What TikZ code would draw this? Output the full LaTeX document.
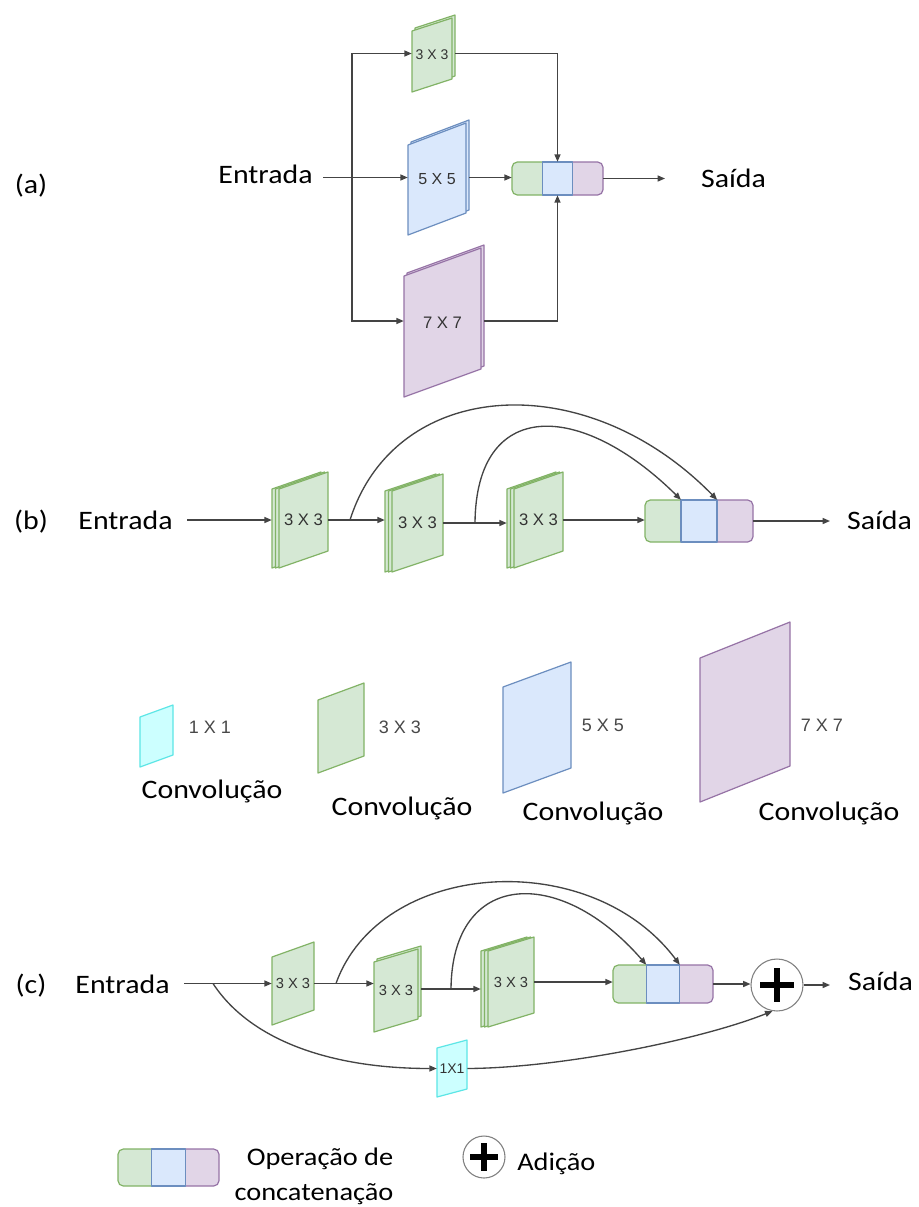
\documentclass[tikz,border=0pt]{standalone}
\usepackage{fontspec}
\setmainfont{Carlito}[FakeStretch=1.12]
\newfontfamily\slabfont{Liberation Sans}
\usetikzlibrary{arrows.meta,calc,fit}

\definecolor{gfill}{HTML}{D5E8D4}\definecolor{gline}{HTML}{82B366}
\definecolor{bfill}{HTML}{DAE8FC}\definecolor{bline}{HTML}{6C8EBF}
\definecolor{pfill}{HTML}{E1D5E7}\definecolor{pline}{HTML}{9673A6}
\definecolor{cfill}{HTML}{CCFFFF}\definecolor{cline}{HTML}{5CE6E6}
\definecolor{linec}{HTML}{444444}
\definecolor{slabtxt}{HTML}{333333}
\definecolor{legtxt}{HTML}{484848}

\tikzset{
  conn/.style={draw=linec, line width=1pt},
  arr/.style={conn, -{Triangle[length=5.5pt,width=4.5pt]}},
  greenc/.style={fill=gfill, draw=gline, line width=0.9pt, line join=round},
  bluec/.style={fill=bfill, draw=bline, line width=0.9pt, line join=round},
  purplec/.style={fill=pfill, draw=pline, line width=0.9pt, line join=round},
  cyanc/.style={fill=cfill, draw=cline, line width=0.9pt, line join=round},
  slablabel/.style={font=\slabfont, text=slabtxt, inner sep=0pt},
  leglabel/.style={font=\slabfont\fontsize{13.5}{15}\selectfont, text=legtxt, inner sep=0pt},
  txt/.style={font=\fontsize{20}{24}\selectfont, inner sep=0pt, anchor=base},
  legtext/.style={font=\fontsize{19}{23}\selectfont, inner sep=0pt, anchor=base},
  addnode/.style={circle, draw=gray, line width=0.8pt, fill=white, inner sep=0pt},
  plusbar/.style={line width=5pt, draw=black},
}

% offset of the stacked back layers
\def\layx{3}\def\layy{-3}

% one slanted convolution face: style, xL, yTop, xR, yBot, rise
\newcommand{\convface}[6]{%
  \filldraw[#1] ({#2},{#3+#6}) -- ({#4},{#3}) -- ({#4},{#5-#6}) -- ({#2},{#5}) -- cycle;}

% convolution block: name, style, xL, yTop, xR, yBot, rise, layers, label
\newcommand{\convslab}[9]{%
  \ifnum#8>2 \convface{#2}{#3+2*\layx}{#4+2*\layy}{#5+2*\layx}{#6+2*\layy}{#7}\fi
  \ifnum#8>1 \convface{#2}{#3+\layx}{#4+\layy}{#5+\layx}{#6+\layy}{#7}\fi
  \convface{#2}{#3}{#4}{#5}{#6}{#7}
  \node[fit={(#3,#4) (#5,#6) ({#3+(#8-1)*\layx},{#4+(#8-1)*\layy}) ({#5+(#8-1)*\layx},{#6+(#8-1)*\layy})}, inner sep=0pt] (#1) {};
  \node[slablabel] (#1-t) at ({(#3+#5)/2},{(#4+#6)/2}) {#9};}

% concatenation block: name, xL, yTop, xR, yBot
\newcommand{\concatbox}[5]{%
  \pgfmathsetmacro\cdivA{#2+(#4-#2)/3}%
  \pgfmathsetmacro\cdivB{#2+2*(#4-#2)/3}%
  \filldraw[greenc, rounded corners=4pt] (#2,#3) rectangle ({\cdivA+8},#5);
  \filldraw[purplec, rounded corners=4pt] ({\cdivB-8},#3) rectangle (#4,#5);
  \filldraw[bluec] (\cdivA,#3) rectangle (\cdivB,#5);
  \node[fit={(#2,#3) (#4,#5)}, inner sep=0pt] (#1) {};}

\begin{document}
\begin{tikzpicture}[x=0.75pt,y=-0.75pt]
\fill[white] (0,0) rectangle (918,1207);
\useasboundingbox (0,0) rectangle (918,1207);

% ---------------- (a) parallel branches ----------------
\node[txt] (la) at (31,193) {(a)};
\node[txt] (ea) at (265.5,183) {Entrada};
\node[txt] (sa) at (733.5,187) {Saída};

\def\layx{3}\def\layy{-3}
\convslab{a3}{greenc}{412}{18}{452}{92}{13}{2}{\fontsize{10.5}{12}\selectfont 3 X 3}
\convslab{a5}{bluec}{408}{123}{466}{235}{22}{2}{\fontsize{12}{14}\selectfont 5 X 5}
\convslab{a7}{purplec}{404}{248}{481}{397}{28}{2}{\fontsize{12.5}{15}\selectfont 7 X 7}
\concatbox{ca}{512}{162}{603}{195}

\coordinate (abr) at (352,177.5);
\coordinate (aout) at (665,178.5);
\draw[arr, shorten <=8pt] (ea.east |- a5.west) -- (a5.west);
\draw[arr] (abr) |- (a3.west);
\draw[arr] (abr) |- (a7.west);
\draw[arr] (a5.east) -- (a5.east -| ca.west);
\draw[arr] (a3.east) -| (ca.north);
\draw[arr] (a7.east) -| (ca.south);
\draw[arr] (ca.east) -- (aout);

% ---------------- (b) dense chain ----------------
\node[txt] (lb) at (31,529) {(b)};
\node[txt] (eb) at (125.5,529) {Entrada};
\node[txt] (sb) at (879.5,529) {Saída};

\def\layx{-3.5}\def\layy{0}
\convslab{b1}{greenc}{279}{472}{328}{568}{17}{3}{\fontsize{12.5}{15}\selectfont 3 X 3}
\convslab{b2}{greenc}{392}{474}{443}{572}{17}{3}{\fontsize{12.5}{15}\selectfont 3 X 3}
\convslab{b3}{greenc}{514}{472}{563}{568}{17}{3}{\fontsize{12.5}{15}\selectfont 3 X 3}
\concatbox{cb}{645}{500}{753}{542}

\coordinate (bb1) at (350,520);
\coordinate (bb2) at (475,523);
\coordinate (bd1) at ($(cb.north west)!1/3!(cb.north east)$);
\coordinate (bd2) at ($(cb.north west)!2/3!(cb.north east)$);
\coordinate (bout) at (830,521);
\draw[arr, shorten <=11pt] (eb.east |- b1.west) -- (b1.west);
\draw[arr] (b1.east) -- (b1.east -| b2.west);
\draw[arr] (b2.east) -- (b2.east -| b3.west);
\draw[arr] (b3.east) -- (b3.east -| cb.west);
\draw[arr] (cb.east) -- (cb.east -| bout);
\draw[arr] (bb1) .. controls (395,378) and (585,365) .. (bd2);
\draw[arr] (bb2) .. controls (476,398) and (580,400) .. (bd1);

% ---------------- legend of the convolutions ----------------
\convslab{l1}{cyanc}{140}{705}{173}{767}{12}{1}{}
\convslab{l3}{greenc}{318}{683}{364}{773}{17}{1}{}
\convslab{l5}{bluec}{503}{662}{571}{793}{25}{1}{}
\convslab{l7}{purplec}{700}{622}{790}{802}{36}{1}{}
\node[leglabel] (t1) at (210,727) {1 X 1};
\node[leglabel] (t3) at (400,727) {3 X 3};
\node[leglabel] (t5) at (603,725) {5 X 5};
\node[leglabel] (t7) at (822,725) {7 X 7};
\node[txt] (c1) at (212,798) {Convolução};
\node[txt] (c3) at (402,815) {Convolução};
\node[txt] (c5) at (593,820) {Convolução};
\node[txt] (c7) at (829,820) {Convolução};

% ---------------- (c) chain with residual addition ----------------
\node[txt] (lc) at (31,993) {(c)};
\node[txt] (ec) at (122.5,993) {Entrada};
\node[txt] (sc) at (880.5,990) {Saída};

\convslab{c1}{greenc}{272}{942}{314}{1025}{15}{1}{\fontsize{11}{13}\selectfont 3 X 3}
\def\layx{3}\def\layy{-3}
\convslab{c2}{greenc}{374}{949}{418}{1032}{13}{2}{\fontsize{11}{13}\selectfont 3 X 3}
\def\layx{-3.5}\def\layy{0}
\convslab{c3}{greenc}{488}{937}{534}{1027}{14}{3}{\fontsize{11}{13}\selectfont 3 X 3}
\convslab{cx}{cyanc}{437}{1040}{467}{1097}{8}{1}{\fontsize{10.5}{12}\selectfont 1X1}
\concatbox{cc}{613}{965}{713}{1003}
\node[addnode, minimum size=39pt] (add) at (777,985) {};
\draw[plusbar] ($(add)+(-17,0)$) -- ($(add)+(17,0)$);
\draw[plusbar] ($(add)+(0,-17)$) -- ($(add)+(0,17)$);

\coordinate (cbr) at (213,983.5);
\coordinate (cb1) at (336,983.5);
\coordinate (cb2) at (451,989);
\coordinate (cd1) at ($(cc.north west)!1/3!(cc.north east)$);
\coordinate (cd2) at ($(cc.north west)!2/3!(cc.north east)$);
\coordinate (cout) at (830,985);
\draw[arr, shorten <=11pt] (ec.east |- c1.west) -- (c1.west);
\draw[arr] (c1.east) -- (c1.east -| c2.west);
\draw[arr] (c2.east) -- (c2.east -| c3.west);
\draw[arr] (c3.east) -- (c3.east -| cc.west);
\draw[arr] (cc.east) -- (cc.east -| add.west);
\draw[arr] (add.east) -- (add.east -| cout);
\draw[arr] (cb1) .. controls (380,860) and (590,845) .. (cd2);
\draw[arr] (cb2) .. controls (452,870) and (560,865) .. (cd1);
\draw[arr] (cbr) .. controls (250,1040) and (330,1068.5) .. (cx.west);
\draw[arr] (cx.east) .. controls (560,1068) and (700,1040) .. (add.-100);

% ---------------- legend of the operations ----------------
\concatbox{lcat}{118}{1149}{219}{1186}
\node[legtext] (op1) at (320,1165) {Operação de};
\node[legtext] (op2) at (314,1200) {concatenação};
\node[addnode, minimum size=31.5pt] (ladd) at (484,1157) {};
\draw[plusbar] ($(ladd)+(-14,0)$) -- ($(ladd)+(14,0)$);
\draw[plusbar] ($(ladd)+(0,-14)$) -- ($(ladd)+(0,14)$);
\node[legtext, anchor=base west] (adl) at (517,1170) {Adição};
\end{tikzpicture}
\end{document}
